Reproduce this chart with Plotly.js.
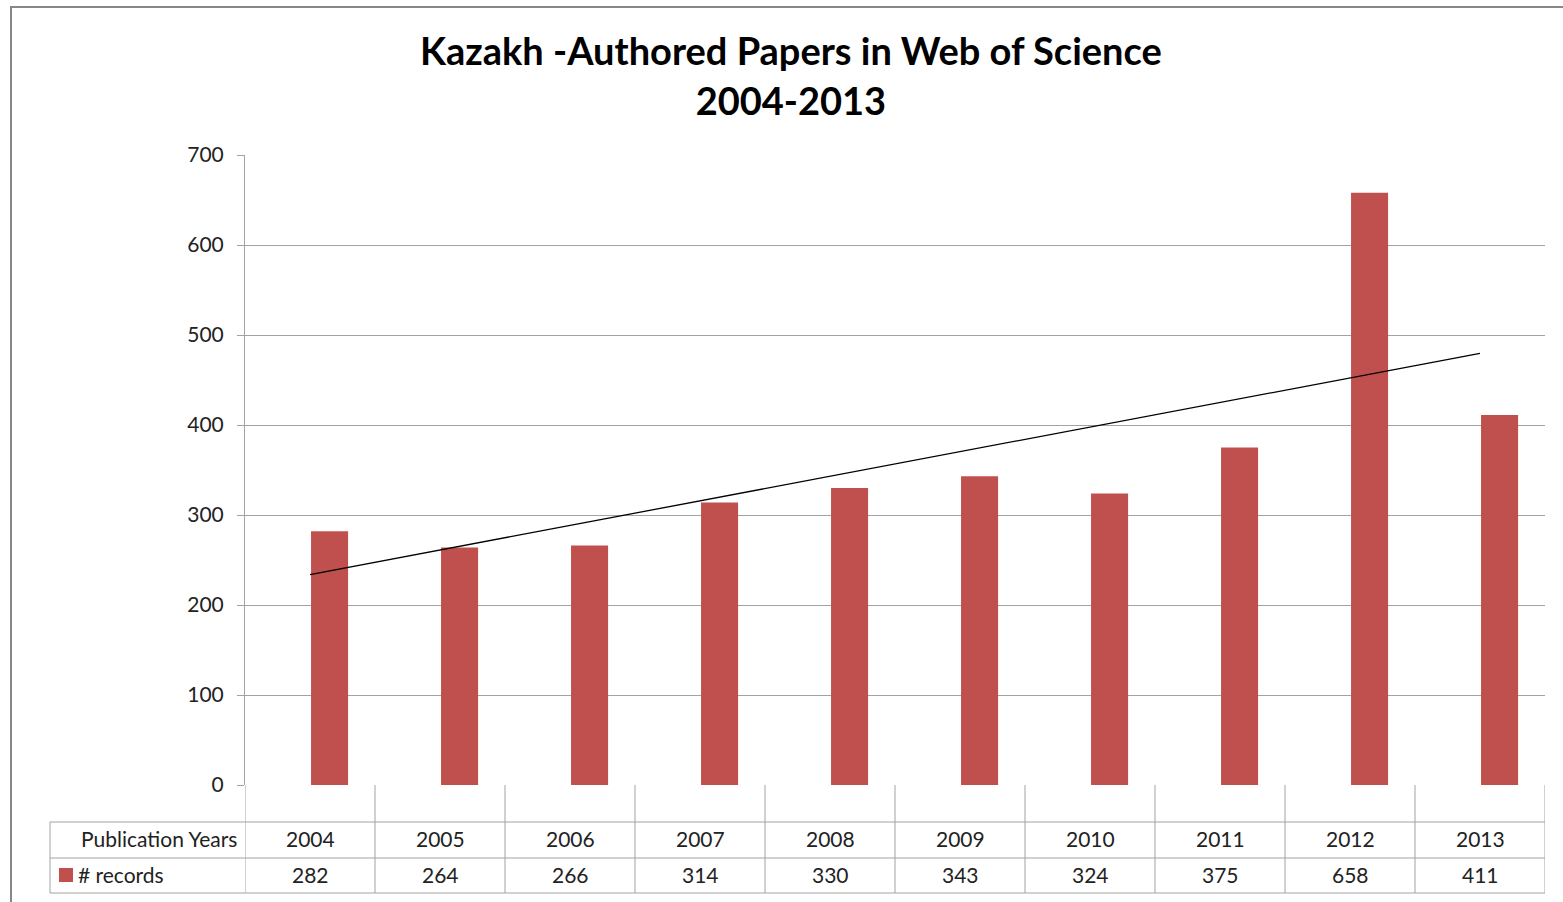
<!DOCTYPE html>
<html>
<head>
<meta charset="utf-8">
<script src="https://cdn.plot.ly/plotly-3.0.1.min.js"></script>
<style>html,body{margin:0;padding:0;background:#fff;}#chart{width:1563px;height:902px;}</style>
</head>
<body>
<div id="chart"></div>
<script>
// Data
var years = ["2004","2005","2006","2007","2008","2009","2010","2011","2012","2013"];
var records = [282, 264, 266, 314, 330, 343, 324, 375, 658, 411];
var seriesName = "# records";
var rowHeader = "Publication Years";
var yTicks = [0, 100, 200, 300, 400, 500, 600, 700];

// Linear trendline (least squares, as in the spreadsheet trendline)
var n = records.length;
var xs = records.map(function(_, i){ return i + 1; });
var mx = xs.reduce(function(a,b){return a+b;},0)/n;
var my = records.reduce(function(a,b){return a+b;},0)/n;
var sxy = 0, sxx = 0;
for (var i = 0; i < n; i++) { sxy += (xs[i]-mx)*(records[i]-my); sxx += (xs[i]-mx)*(xs[i]-mx); }
var slope = sxy/sxx, intercept = my - slope*mx;
var trendY = xs.map(function(x){ return intercept + slope*x; });

// Layout geometry (pixels)
var W = 1563, H = 902;
var L = 245, R = 1545, T = 155, B = 785;
function py(p){ return (B - p)/(B - T); }   // pixel y -> paper y
function px(p){ return (p - L)/(R - L); }   // pixel x -> paper x

var gridC = "#A3A3A3";
var textC = "#222222";
var font = "Lato, 'Open Sans', sans-serif";

var shapes = [];
// table horizontal lines
[822, 858, 893].forEach(function(yy){
  shapes.push({type:"line", xref:"paper", yref:"paper", x0:px(50), x1:1, y0:py(yy), y1:py(yy), line:{color:gridC, width:1}});
});
// left column verticals
shapes.push({type:"line", xref:"paper", yref:"paper", x0:px(50), x1:px(50), y0:py(822), y1:py(893), line:{color:gridC, width:1}});
// category boundaries
for (var k = 0; k <= years.length; k++) {
  shapes.push({type:"line", xref:"x", yref:"paper", x0:k-0.5, x1:k-0.5, y0:0, y1:py(893), line:{color:gridC, width:1}});
}
// legend key
shapes.push({type:"rect", xref:"paper", yref:"paper", x0:px(59), x1:px(73), y0:py(868), y1:py(882), fillcolor:"#C0504D", line:{width:0}});
// outer chart frame
shapes.push({type:"rect", xref:"paper", yref:"paper", x0:px(11), x1:px(1575), y0:py(7), y1:py(915), line:{color:"#878787", width:2}, fillcolor:"rgba(0,0,0,0)"});

var annotations = [];
years.forEach(function(yr, i){
  annotations.push({x:i, xref:"x", yref:"paper", y:py(838.5), text:yr, showarrow:false, yanchor:"middle", xanchor:"center", font:{family:font, size:21, color:textC}});
  annotations.push({x:i, xref:"x", yref:"paper", y:py(874.5), text:String(records[i]), showarrow:false, yanchor:"middle", xanchor:"center", font:{family:font, size:21, color:textC}});
});
annotations.push({x:px(239), xref:"paper", yref:"paper", y:py(838.5), text:rowHeader, showarrow:false, xanchor:"right", yanchor:"middle", font:{family:font, size:21, color:textC}});
annotations.push({x:px(76), xref:"paper", yref:"paper", y:py(874.5), text:seriesName, showarrow:false, xanchor:"left", yanchor:"middle", font:{family:font, size:21, color:textC}});

var traces = [
  {type:"bar", x:years, y:records, name:seriesName, marker:{color:"#C0504D"}, width:0.285, offset:0.008, hoverinfo:"x+y"},
  {type:"scatter", mode:"lines", x:years, y:trendY, name:"Linear (# records)", line:{color:"#000000", width:1.3}, hoverinfo:"skip"}
];

var layout = {
  width: W, height: H,
  margin: {l:L, r:W-R, t:T, b:H-B, pad:0},
  paper_bgcolor:"#ffffff", plot_bgcolor:"#ffffff",
  showlegend:false,
  title:{text:"<b>Kazakh -Authored Papers in Web of Science</b><br><b>2004-2013</b>", x:0.506, xanchor:"center", y:0.9275, yanchor:"top", yref:"container", font:{family:font, size:38, color:"#000000"}},
  xaxis:{type:"category", range:[-0.5, 9.5], showticklabels:false, ticks:"", showgrid:false, zeroline:false, showline:false, fixedrange:true},
  yaxis:{range:[0,700], tickvals:yTicks, ticks:"outside", ticklen:7, tickcolor:gridC, tickwidth:1, ticklabelstandoff:9,
         showline:true, linecolor:gridC, linewidth:1, gridcolor:gridC, gridwidth:1, zeroline:false,
         tickfont:{family:font, size:21, color:textC}, fixedrange:true},
  shapes: shapes,
  annotations: annotations
};

Plotly.newPlot("chart", traces, layout, {displayModeBar:false, staticPlot:true});
</script>
</body>
</html>
